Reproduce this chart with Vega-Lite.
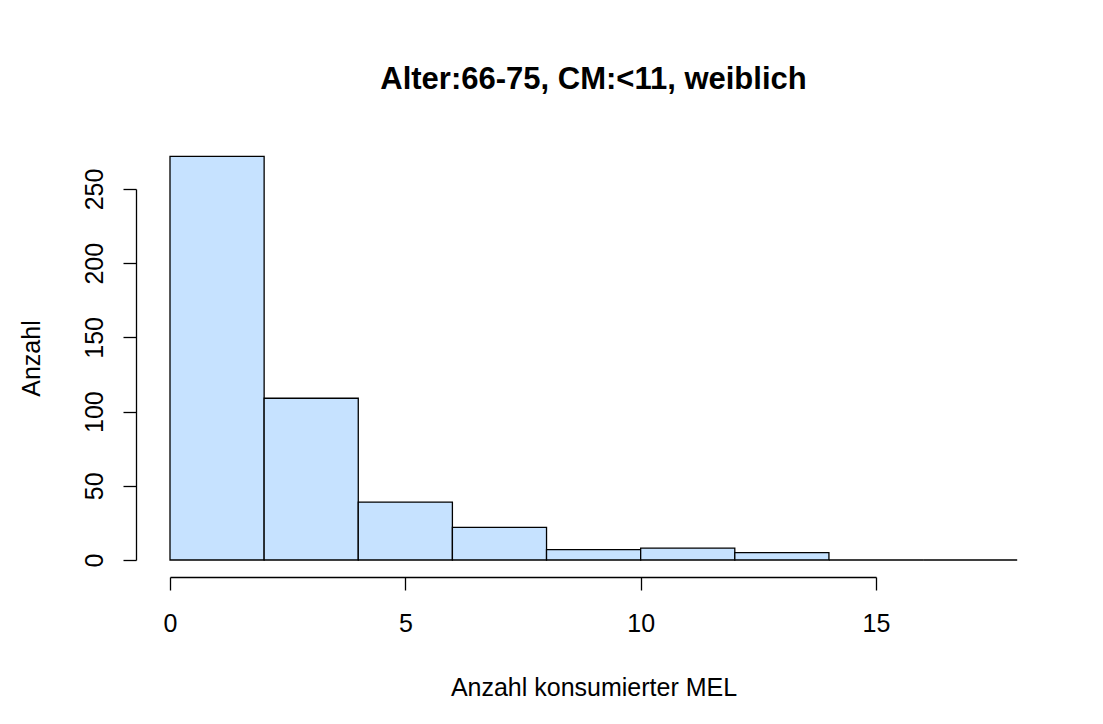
{
  "$schema": "https://vega.github.io/schema/vega-lite/v6.json",
  "autosize": {"type": "none"},
  "width": 915,
  "height": 438,
  "padding": {"left": 136, "top": 139, "right": 52, "bottom": 147},
  "background": "white",
  "title": {
    "text": "Alter:66-75, CM:<11, weiblich",
    "font": "Liberation Sans",
    "fontSize": 31,
    "fontWeight": "bold",
    "color": "black",
    "anchor": "middle",
    "frame": "group",
    "baseline": "alphabetic",
    "offset": 19
  },
  "data": {
    "values": [
      {"von": 0, "bis": 2, "anzahl": 272},
      {"von": 2, "bis": 4, "anzahl": 109},
      {"von": 4, "bis": 6, "anzahl": 39},
      {"von": 6, "bis": 8, "anzahl": 22},
      {"von": 8, "bis": 10, "anzahl": 7},
      {"von": 10, "bis": 12, "anzahl": 8},
      {"von": 12, "bis": 14, "anzahl": 5},
      {"von": 14, "bis": 16, "anzahl": 0},
      {"von": 16, "bis": 18, "anzahl": 0}
    ]
  },
  "mark": {"type": "rect", "fill": "#C6E2FF", "stroke": "black", "strokeWidth": 1.3, "clip": false},
  "encoding": {
    "x": {
      "field": "von",
      "type": "quantitative",
      "scale": {"domain": [0, 15], "range": [34, 740], "nice": false, "zero": false},
      "axis": {
        "title": "Anzahl konsumierter MEL",
        "values": [0, 5, 10, 15],
        "grid": false,
        "domainColor": "black",
        "domainWidth": 1.3,
        "tickColor": "black",
        "tickWidth": 1.3,
        "tickSize": 13,
        "labelFont": "Liberation Sans",
        "labelFontSize": 25,
        "labelColor": "black",
        "labelBaseline": "alphabetic",
        "labelPadding": 41,
        "labelFlush": false,
        "labelOverlap": false,
        "titleFont": "Liberation Sans",
        "titleFontSize": 25,
        "titleFontWeight": "normal",
        "titleColor": "black",
        "titleBaseline": "alphabetic",
        "titleAnchor": "middle",
        "titleX": 457.5,
        "titleY": 118
      }
    },
    "x2": {"field": "bis"},
    "y": {
      "field": "anzahl",
      "type": "quantitative",
      "scale": {"domain": [0, 250], "range": [421, 50], "nice": false, "zero": false},
      "axis": {
        "title": "Anzahl",
        "values": [0, 50, 100, 150, 200, 250],
        "grid": false,
        "domainColor": "black",
        "domainWidth": 1.3,
        "tickColor": "black",
        "tickWidth": 1.3,
        "tickSize": 13,
        "labelFont": "Liberation Sans",
        "labelFontSize": 25,
        "labelColor": "black",
        "labelAngle": -90,
        "labelAlign": "center",
        "labelBaseline": "alphabetic",
        "labelPadding": 21,
        "labelFlush": false,
        "labelOverlap": false,
        "titleFont": "Liberation Sans",
        "titleFontSize": 25,
        "titleFontWeight": "normal",
        "titleColor": "black",
        "titleAngle": -90,
        "titleBaseline": "alphabetic",
        "titleX": -97,
        "titleY": 219
      }
    },
    "y2": {"datum": 0}
  },
  "config": {"view": {"stroke": null}}
}
